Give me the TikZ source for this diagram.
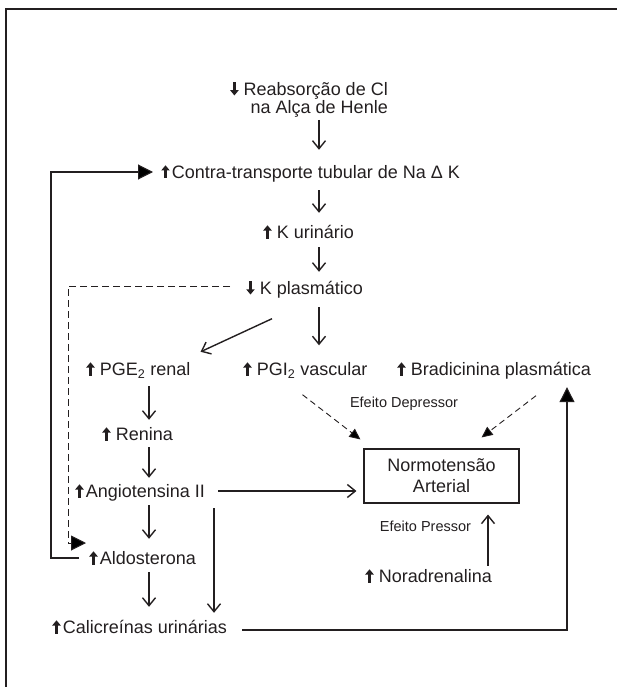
\documentclass[tikz,border=0pt]{standalone}
\usepackage{fontspec}
\setmainfont{Liberation Sans}
\usetikzlibrary{arrows.meta,calc}
\definecolor{ink}{HTML}{231F20}
\newcommand{\arrUp}{\tikz[baseline=0pt,x=1pt,y=1pt]{\fill[ink] (-1.3,0) rectangle (1.3,8.6); \fill[ink] (-4.3,8) -- (4.3,8) -- (0,13.2) -- cycle;}}
\newcommand{\arrDn}{\tikz[baseline=0pt,x=1pt,y=1pt]{\fill[ink] (-1.3,4.6) rectangle (1.3,13.2); \fill[ink] (-4.3,5.2) -- (4.3,5.2) -- (0,0) -- cycle;}}
\begin{document}
\begin{tikzpicture}[x=1pt,y=-1pt,
  txt/.style={inner sep=0pt, text height=13pt, text depth=4pt, font=\fontsize{18}{20}\selectfont, text=ink},
  lbl/.style={inner sep=0pt, font=\fontsize{14.5}{16}\selectfont, text=ink},
  arr/.style={draw=ink, line width=1.4pt, -{Straight Barb[length=8pt,width=13pt,line width=1.4pt]}},
  big/.style={draw=ink, line width=1.1pt, -{Triangle[length=15pt,width=15pt]}},
  dsh/.style={draw=ink, line width=0.9pt, dash pattern=on 6pt off 4pt, -{Triangle[length=11pt,width=10pt]}},
  dshL/.style={draw=ink, line width=1pt, dash pattern=on 7pt off 4pt, -{Triangle[length=15pt,width=15pt]}},
  box/.style={draw=ink, line width=1.1pt, minimum width=155pt, minimum height=54pt, align=center, inner sep=0pt, font=\fontsize{18}{21}\selectfont, text=ink}]
\useasboundingbox (0,0) rectangle (616,687);
% frame
\draw[ink, line width=1.3pt] (6,690) -- (6,9) -- (620,9);
% column coordinates
\coordinate (c1) at (319,0);
\coordinate (c2) at (149,0);
\coordinate (c3) at (214,0);
\coordinate (c4) at (567,0);
\coordinate (c5) at (488,0);
\coordinate (cL) at (51,0);
\coordinate (cD) at (68,0);
% nodes
\node[txt, align=right, anchor=east, font=\fontsize{18}{18.5}\selectfont, text height=, text depth=] (reab) at (388,100) {\arrDn\ Reabsorção de Cl\\na Alça de Henle};
\node[txt, anchor=base west] (contra) at (161,178.5) {\arrUp\kern2pt Contra-transporte tubular de Na Δ K};
\node[txt, anchor=base west] (kur) at (263,238.5) {\arrUp\ K urinário};
\node[txt, anchor=base west] (kpl) at (246,294.5) {\arrDn\ K plasmático};
\node[txt, anchor=base west] (pge) at (86,375.5) {\arrUp\ PGE\textsubscript{2} renal};
\node[txt, anchor=base west] (pgi) at (243,375.5) {\arrUp\ PGI\textsubscript{2} vascular};
\node[txt, anchor=base west] (brad) at (397,375.5) {\arrUp\ Bradicinina plasmática};
\node[lbl] (dep) at (404,404) {Efeito Depressor};
\node[txt, anchor=base west] (ren) at (102,440.5) {\arrUp\ Renina};
\node[box] (normo) at (441.5,476) {Normotensão\\Arterial};
\node[txt, anchor=base west] (ang) at (75,497.5) {\arrUp\kern2pt Angiotensina II};
\node[lbl] (pres) at (425.5,526) {Efeito Pressor};
\node[txt, anchor=base west] (ald) at (89,564.5) {\arrUp\kern2pt Aldosterona};
\node[txt, anchor=base west] (nor) at (365,582.5) {\arrUp\ Noradrenalina};
\node[txt, anchor=base west] (cal) at (52,633.5) {\arrUp\kern2pt Calicreínas urinárias};
% main chain
\draw[arr, shorten <=2pt, shorten >=15.5pt] (c1 |- reab.south) -- (c1 |- contra.north);
\draw[arr, shorten <=7.5pt, shorten >=12.5pt] (c1 |- contra.south) -- (c1 |- kur.north);
\draw[arr, shorten <=4.5pt, shorten >=9.5pt] (c1 |- kur.south) -- (c1 |- kpl.north);
\draw[arr, shorten <=8.5pt, shorten >=17pt] (c1 |- kpl.south) -- (c1 |- pgi.north);
\draw[arr] ($(kpl.south west)+(26,20)$) -- ($(pge.north east)+(10,-10.5)$);
% left column
\draw[arr, shorten <=6.5pt, shorten >=7.5pt] (c2 |- pge.south) -- (c2 |- ren.north);
\draw[arr, shorten <=2.5pt, shorten >=6.5pt] (c2 |- ren.south) -- (c2 |- ang.north);
\draw[arr, shorten <=3.5pt, shorten >=12.5pt] (c2 |- ang.south) -- (c2 |- ald.north);
\draw[arr, shorten <=3.5pt, shorten >=13.5pt] (c2 |- ald.south) -- (c2 |- cal.north);
\draw[arr, shorten <=6.5pt, shorten >=7.5pt] (c3 |- ang.south) -- (c3 |- cal.north);
% to normotension
\draw[arr, shorten >=7pt] ([xshift=13pt,yshift=2pt]ang.east) -- ([yshift=2pt]ang.east -| normo.west);
\draw[arr, shorten <=3.5pt, shorten >=11pt] (c5 |- nor.north) -- (c5 |- normo.south);
\draw[dsh] ($(pgi.south west)+(59.5,15)$) -- ($(normo.north west)+(-3,-9)$);
\draw[dsh] ($(brad.south west)+(139,16)$) -- ($(normo.north east)+(-38,-11)$);
% loops
\draw[big, shorten >=7.5pt] ([xshift=15pt,yshift=-1pt]cal.east) -| (c4 |- brad.south);
\coordinate (fb) at ([xshift=-8pt,yshift=2pt]contra.west);
\draw[big] ([xshift=-10pt,yshift=2pt]ald.west) -| (cL |- fb) -- (fb);
\coordinate (dd) at ([xshift=-3pt,yshift=17pt]ald.west);
\draw[dshL] ([xshift=-16pt,yshift=4pt]kpl.west) -| (cD |- dd) -- (dd);
\end{tikzpicture}
\end{document}
